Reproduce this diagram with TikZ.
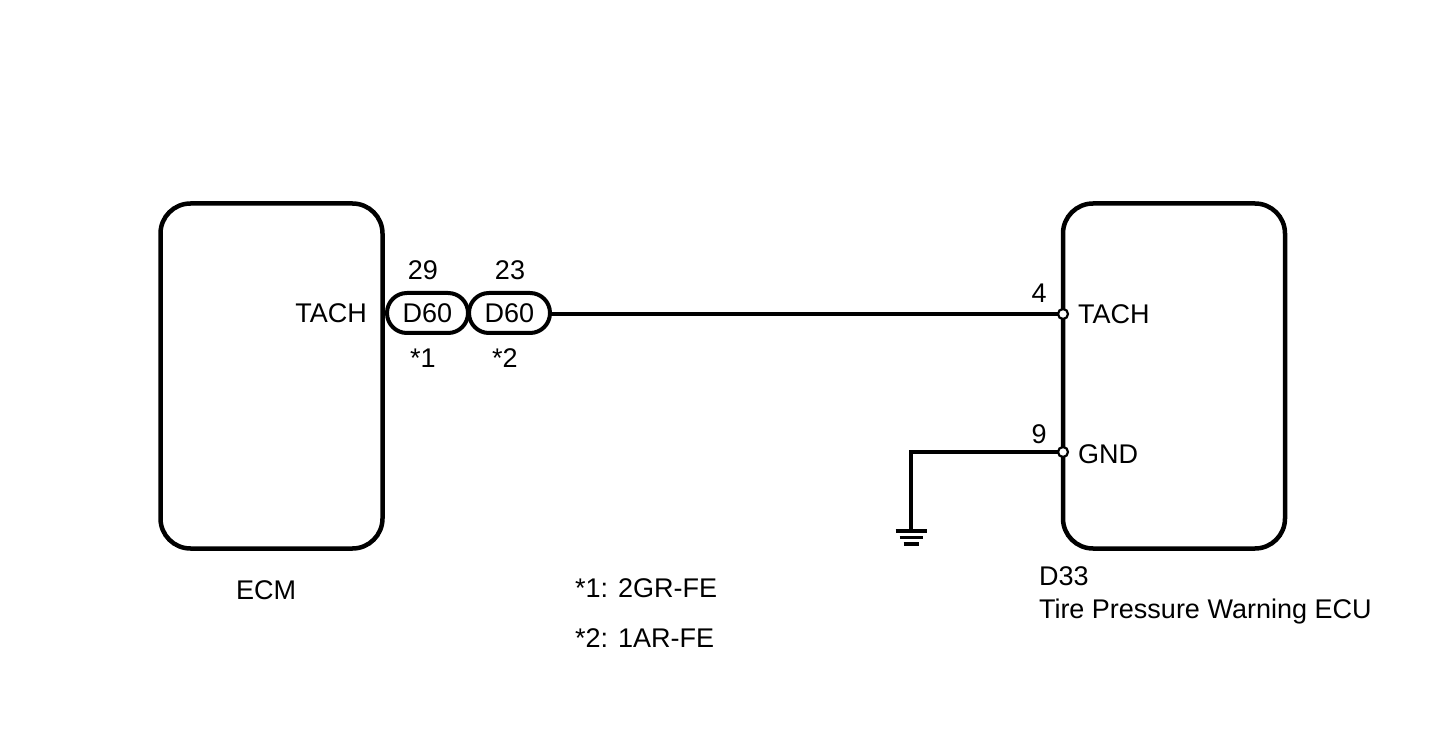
\documentclass[tikz,border=0pt]{standalone}
\usepackage{fontspec}
\setmainfont{Liberation Sans}
\begin{document}
\begin{tikzpicture}[x=1pt,y=-1pt,
  every node/.style={inner sep=0pt,outer sep=0pt,font=\fontsize{27}{30}\selectfont},
  unitbox/.style={draw,line width=4.5pt,rounded corners=30pt,minimum width=222pt,minimum height=345pt},
  pill/.style={draw,line width=4pt,rounded corners=19.9pt,minimum width=81pt,minimum height=40pt},
  wire/.style={line width=4pt},
  pin/.style={circle,draw,fill=white,line width=2.2pt,minimum size=10pt},
  lbl/.style={anchor=base},
  lblw/.style={anchor=base west}]
\useasboundingbox (0,0) rectangle (1436,751);
\fill[white] (0,0) rectangle (1436,751);
% boxes
\node[unitbox] (ecm) at (271.5,376) {};
\node[unitbox] (ecu) at (1174,376) {};
% connectors
\node[pill] (c1) at (427.5,313) {D60};
\node[pill] (c2) at (509.5,313) {D60};
% pins
\coordinate (p4) at (1063,314);
\coordinate (p9) at (1063,452);
\coordinate (gc) at (911,452);
\coordinate (gb) at (911,531);
\draw[wire] (c2.east |- p4) -- (p4);
\draw[wire] (p9) -- (gc) -- (gb);
\draw[line width=3.5pt] (895.5,531) -- (926.5,531);
\draw[line width=3.5pt] (899.5,537.5) -- (922.5,537.5);
\draw[line width=3.5pt] (903.5,544) -- (918.5,544);
\node[pin] (pin4) at (p4) {};
\node[pin] (pin9) at (p9) {};
% labels
\node[lbl] (tachL) at (331,323) {TACH};
\node[lbl] (n29) at (423,280) {29};
\node[lbl] (n23) at (510,280) {23};
\node[lbl] (s1) at (423,368) {*1};
\node[lbl] (s2) at (505,368) {*2};
\node[lbl] (n4) at (1039,303) {4};
\node[lbl] (n9) at (1039,443) {9};
\node[lblw] (tachR) at (1078,324) {TACH};
\node[lblw] (gnd) at (1078,463) {GND};
\node[lbl] (ecmt) at (266,599) {ECM};
\node[lblw] (d33) at (1039,585) {D33};
\node[lblw] (tpw) at (1039,618) {Tire Pressure Warning ECU};
\node[lblw] (note1) at (575,597) {*1: 2GR-FE};
\node[lblw] (note2) at (575,647) {*2: 1AR-FE};
\end{tikzpicture}
\end{document}
